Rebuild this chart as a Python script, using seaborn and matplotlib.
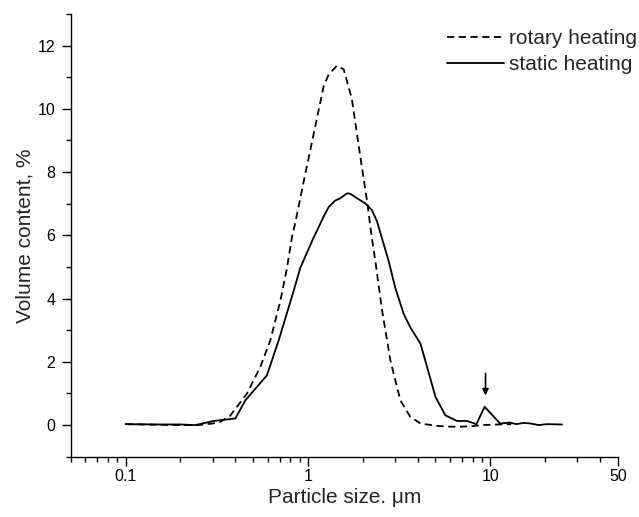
import pandas as pd
import matplotlib
matplotlib.use('Agg')
import matplotlib.pyplot as plt
import matplotlib.ticker as mticker
import seaborn as sns

# values
rotary_size = [0.1, 0.15, 0.2, 0.25, 0.3, 0.33, 0.375, 0.463, 0.547, 0.621, 0.705,
               0.767, 0.817, 0.852, 0.946, 1.07, 1.22, 1.30, 1.44, 1.57, 1.74, 1.86,
               1.98, 2.11, 2.24, 2.34, 2.55, 2.83, 3.21, 3.64, 4.14, 5.0, 6.0, 7.0,
               8.0, 9.0, 11.0, 13.0]
rotary_vol = [0.03, 0.01, 0.0, 0.0, 0.05, 0.1, 0.3, 1.0, 1.83, 2.67, 3.92,
              4.97, 5.95, 6.4, 7.69, 9.16, 10.73, 11.09, 11.36, 11.25, 10.31, 9.16,
              8.11, 7.06, 5.91, 5.18, 3.61, 2.04, 0.78, 0.26, 0.05, -0.02, -0.05, -0.05,
              -0.03, 0.0, 0.02, 0.03]

static_size = [0.1, 0.15, 0.2, 0.241, 0.304, 0.40, 0.453, 0.595, 0.69, 0.834, 0.907,
               1.07, 1.22, 1.30, 1.41, 1.50, 1.64, 1.71, 1.86, 2.06, 2.24, 2.39, 2.77,
               3.01, 3.35, 3.64, 4.14, 4.50, 5.00, 5.66, 6.56, 7.45, 8.38, 9.29, 11.3,
               12.8, 13.9, 15.2, 16.6, 18.4, 20.4, 24.7]
static_vol = [0.03, 0.02, 0.02, 0.0, 0.13, 0.21, 0.78, 1.57, 2.67, 4.24, 4.97,
              5.91, 6.6, 6.9, 7.1, 7.17, 7.33, 7.31, 7.17, 7.01, 6.80, 6.44, 5.18,
              4.34, 3.51, 3.09, 2.57, 1.83, 0.89, 0.31, 0.13, 0.13, 0.03, 0.58, 0.05,
              0.08, 0.03, 0.07, 0.05, 0.0, 0.03, 0.02]

peak_size = 9.4

x_ticks = [0.1, 1, 10, 50]
x_tick_labels = ['0.1', '1', '10', '50']

df_rot = pd.DataFrame({'size': rotary_size, 'vol': rotary_vol})
df_sta = pd.DataFrame({'size': static_size, 'vol': static_vol})

sns.set_style('ticks')
plt.rcParams['font.family'] = ['Liberation Sans', 'DejaVu Sans']

fig = plt.figure(figsize=(6.39, 5.17), dpi=100)
ax = fig.add_axes([0.1106, 0.1166, 0.8564, 0.8564])

sns.lineplot(data=df_rot, x='size', y='vol', ax=ax, color='black', lw=1.3,
             linestyle=(0, (4, 2.5)), estimator=None, sort=False, label='rotary heating')
sns.lineplot(data=df_sta, x='size', y='vol', ax=ax, color='black', lw=1.3,
             estimator=None, sort=False, label='static heating')

ax.annotate('', xy=(peak_size, 0.85), xytext=(peak_size, 1.72),
            arrowprops=dict(arrowstyle='-|>', color='black', lw=1.2, mutation_scale=9))

ax.set_xscale('log')
ax.set_xlim(0.05, 50)
ax.set_ylim(-1, 13)
ax.xaxis.set_major_locator(mticker.FixedLocator(x_ticks))
ax.xaxis.set_major_formatter(mticker.FixedFormatter(x_tick_labels))
ax.xaxis.set_minor_locator(mticker.LogLocator(base=10, subs=range(2, 10), numticks=20))
ax.xaxis.set_minor_formatter(mticker.NullFormatter())
ax.yaxis.set_major_locator(mticker.MultipleLocator(2))
ax.yaxis.set_minor_locator(mticker.MultipleLocator(1))

ax.tick_params(which='major', direction='out', length=6.5, width=1, labelsize=11.5,
               color='black', labelcolor='black')
ax.tick_params(which='minor', direction='out', length=3.3, width=1, color='black')
ax.tick_params(axis='x', which='major', pad=2)
ax.tick_params(axis='y', which='major', pad=4.5)

sns.despine(ax=ax)
for s in ['left', 'bottom']:
    ax.spines[s].set_color('black')
    ax.spines[s].set_linewidth(1)

ax.set_xlabel('Particle size. \u03bcm', fontsize=15, labelpad=3)
ax.set_ylabel('Volume content, %', fontsize=15, labelpad=2)

ax.legend(loc='upper right', bbox_to_anchor=(1.0, 0.948), bbox_transform=fig.transFigure,
          frameon=False, fontsize=15, handlelength=2.7, handletextpad=0.25,
          labelspacing=0.35, borderaxespad=0.0, borderpad=0.1)

fig.savefig('out.png', dpi=100)
